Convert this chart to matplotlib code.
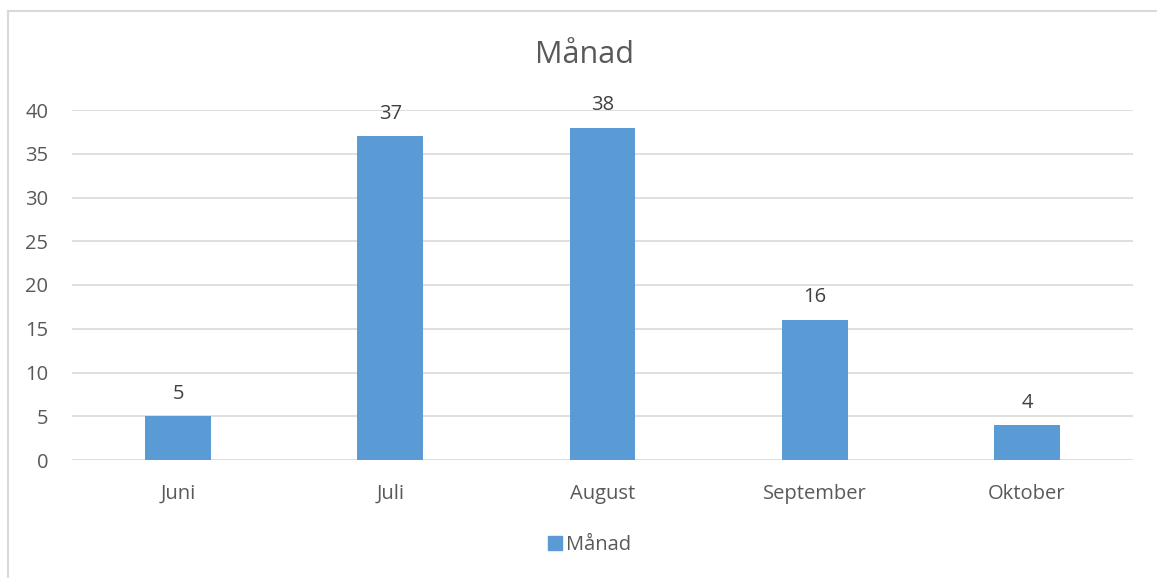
import matplotlib
matplotlib.use("Agg")
import matplotlib.pyplot as plt
from matplotlib.lines import Line2D
from matplotlib.patches import Rectangle

categories = ["Juni", "Juli", "August", "September", "Oktober"]
values = [5, 37, 38, 16, 4]
series_name = "Månad"
title = "Månad"
yticks = [0, 5, 10, 15, 20, 25, 30, 35, 40]

W, H = 1157, 578
plt.rcParams['font.family'] = ['Open Sans', 'DejaVu Sans']
text_color = "#595959"
bar_color = "#5b9bd5"
grid_color = "#d9d9d9"
fs = 14.5

fig = plt.figure(figsize=(W / 100, H / 100), dpi=100)
ax = fig.add_axes([72 / W, 1 - 460 / H, (1133 - 72) / W, (460 - 110) / H])

x = list(range(len(categories)))
bars = ax.bar(x, values, width=0.31, color=bar_color, zorder=3, label=series_name)
ax.set_xlim(-0.5, len(categories) - 0.5)
ax.set_ylim(0, 40)
ax.set_yticks(yticks)
ax.set_yticklabels([str(t) for t in yticks])
ax.set_xticks(x)
ax.set_xticklabels(categories)
ax.tick_params(axis='both', length=0, labelsize=fs, colors=text_color)
ax.tick_params(axis='x', pad=17)
ax.tick_params(axis='y', pad=17)
for lab in ax.get_yticklabels():
    lab.set_horizontalalignment('right')
ax.grid(axis='y', color=grid_color, linewidth=1.2, zorder=0)
for s in ax.spines.values():
    s.set_visible(False)

for b, v in zip(bars, values):
    ax.annotate(str(v), (b.get_x() + b.get_width() / 2, v), xytext=(0, 9),
                textcoords='offset points', ha='center', va='bottom',
                fontsize=fs, color="#404040")

fig.text(585 / W, 1 - 55 / H, title, ha='center', va='center', fontsize=22, color=text_color)

leg = fig.legend(handles=[Rectangle((0, 0), 1, 1, color=bar_color)], labels=[series_name],
                 loc='center', bbox_to_anchor=(590 / W, 1 - 545 / H), frameon=False,
                 fontsize=fs, handlelength=0.7, handleheight=0.7, handletextpad=0.2)
for t in leg.get_texts():
    t.set_color(text_color)

# outer chart border (left and top visible)
fig.add_artist(Line2D([8 / W, 8 / W], [0, 1 - 11 / H], transform=fig.transFigure, color="#d9d9d9", linewidth=1.5))
fig.add_artist(Line2D([8 / W, 1], [1 - 11 / H, 1 - 11 / H], transform=fig.transFigure, color="#d9d9d9", linewidth=1.5))

fig.savefig("out.png", dpi=100)
